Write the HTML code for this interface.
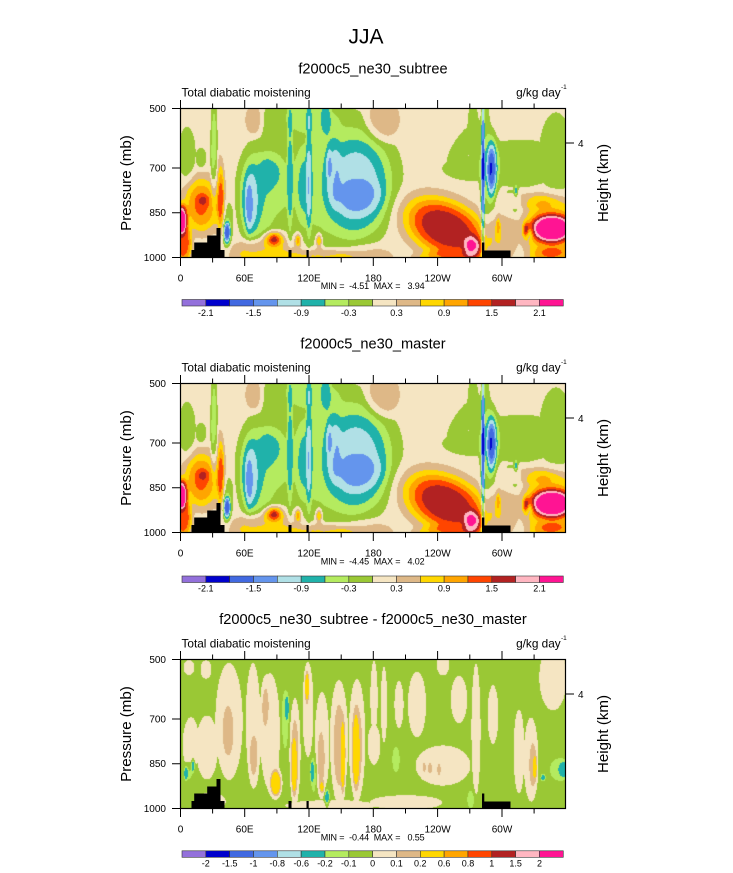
<!DOCTYPE html>
<html><head><meta charset="utf-8"><style>
html,body{margin:0;padding:0;background:#fff;}
body{width:733px;height:873px;position:relative;overflow:hidden;font-family:"Liberation Sans",Arial,sans-serif;}
canvas{position:absolute;}
svg{position:absolute;left:0;top:0;}
</style></head><body>
<canvas id="c1" width="386" height="150" style="left:180px;top:108px"></canvas>
<canvas id="c2" width="386" height="150" style="left:180px;top:383px"></canvas>
<canvas id="c3" width="386" height="150" style="left:180px;top:659px"></canvas>
<svg width="733" height="873" viewBox="0 0 733 873" font-family="Liberation Sans, Arial, sans-serif">
<defs>
<g id="terr">
<polygon points="11,150 11,142 13.7,142 13.7,134.5 26.7,134.5 26.7,127.5 36,127.5 36,120 40,120 40,142 44,142 44,150" fill="#000"/>
<rect x="108" y="142" width="3" height="8" fill="#000"/>
<rect x="126" y="142" width="2.2" height="8" fill="#000"/>
<rect x="301.5" y="142.5" width="28.5" height="7.5" fill="#000"/>
<rect x="301.5" y="134.5" width="2.3" height="10" fill="#000"/>
</g>
<g id="axes" fill="none" stroke="#000">
<rect x="180.5" y="108.5" width="385" height="149" stroke-width="1.2"/>
<path stroke-width="1" d="M180.5 257.5v8.5M244.7 257.5v8.5M309 257.5v8.5M373.3 257.5v8.5M437.6 257.5v8.5M502 257.5v8.5M212.6 257.5v5M276.9 257.5v5M341.2 257.5v5M405.5 257.5v5M469.8 257.5v5M534.1 257.5v5M180.5 108.5v-8.5M244.7 108.5v-8.5M309 108.5v-8.5M373.3 108.5v-8.5M437.6 108.5v-8.5M502 108.5v-8.5M212.6 108.5v-5M276.9 108.5v-5M341.2 108.5v-5M405.5 108.5v-5M469.8 108.5v-5M534.1 108.5v-5M180.5 108.5h-8.5M180.5 168h-8.5M180.5 212.7h-8.5M180.5 257.5h-8.5M565.5 143h8.5"/>
</g>
<g id="cbar" stroke="#333" stroke-width="0.6">
<rect x="182" y="299.5" width="23.83" height="6.5" fill="#9370DB"/>
<rect x="205.83" y="299.5" width="23.83" height="6.5" fill="#0000CD"/>
<rect x="229.66" y="299.5" width="23.83" height="6.5" fill="#4169E1"/>
<rect x="253.49" y="299.5" width="23.83" height="6.5" fill="#6495ED"/>
<rect x="277.32" y="299.5" width="23.83" height="6.5" fill="#B0E0E6"/>
<rect x="301.15" y="299.5" width="23.83" height="6.5" fill="#20B2AA"/>
<rect x="324.98" y="299.5" width="23.83" height="6.5" fill="#B4EB5F"/>
<rect x="348.81" y="299.5" width="23.83" height="6.5" fill="#9AC835"/>
<rect x="372.64" y="299.5" width="23.83" height="6.5" fill="#F5E5C2"/>
<rect x="396.47" y="299.5" width="23.83" height="6.5" fill="#DEB887"/>
<rect x="420.3" y="299.5" width="23.83" height="6.5" fill="#FFD700"/>
<rect x="444.13" y="299.5" width="23.83" height="6.5" fill="#FFA500"/>
<rect x="467.96" y="299.5" width="23.83" height="6.5" fill="#FF4500"/>
<rect x="491.79" y="299.5" width="23.83" height="6.5" fill="#B22222"/>
<rect x="515.62" y="299.5" width="23.83" height="6.5" fill="#FFB6C1"/>
<rect x="539.45" y="299.5" width="23.83" height="6.5" fill="#FF1493"/>
</g>
</defs>

<use href="#terr" transform="translate(180.5,108)"/>
<use href="#terr" transform="translate(180.5,383)"/>
<use href="#terr" transform="translate(180.5,659)"/>
<use href="#axes"/>
<use href="#axes" transform="translate(0,275)"/>
<use href="#axes" transform="translate(0,551)"/>
<use href="#cbar"/>
<use href="#cbar" transform="translate(0,276.5)"/>
<use href="#cbar" transform="translate(0,551.3)"/>

<text x="366" y="43.5" font-size="21" text-anchor="middle">JJA</text>

<!-- Panel 1 -->
<g>
<text x="373" y="73.3" font-size="14.6" text-anchor="middle">f2000c5_ne30_subtree</text>
<text x="181.5" y="96.5" font-size="11.8">Total diabatic moistening</text>
<text x="560.7" y="96.5" font-size="11.8" text-anchor="end">g/kg day</text>
<text x="561" y="89" font-size="6.5">-1</text>
<g font-size="10" text-anchor="end">
<text x="166" y="112">500</text><text x="166" y="171.5">700</text><text x="166" y="216.2">850</text><text x="166" y="261">1000</text>
</g>
<text x="578" y="147" font-size="10">4</text>
<g font-size="10" text-anchor="middle">
<text x="180.5" y="281.5">0</text><text x="244.7" y="281.5">60E</text><text x="309" y="281.5">120E</text><text x="373.3" y="281.5">180</text><text x="437.6" y="281.5">120W</text><text x="502" y="281.5">60W</text>
</g>
<text x="320.7" y="289" font-size="9" textLength="104" xml:space="preserve">MIN =  -4.51  MAX =   3.94</text>
<g font-size="9" text-anchor="middle">
<text x="205.8" y="316">-2.1</text><text x="253.5" y="316">-1.5</text><text x="301.2" y="316">-0.9</text><text x="348.8" y="316">-0.3</text><text x="396.5" y="316">0.3</text><text x="444.1" y="316">0.9</text><text x="491.8" y="316">1.5</text><text x="539.5" y="316">2.1</text>
</g>
<text transform="translate(131,183) rotate(-90)" font-size="15.1" text-anchor="middle">Pressure (mb)</text>
<text transform="translate(608,183) rotate(-90)" font-size="15.1" text-anchor="middle">Height (km)</text>
</g>

<!-- Panel 2 -->
<g>
<text x="373" y="348.3" font-size="14.6" text-anchor="middle">f2000c5_ne30_master</text>
<text x="181.5" y="371.5" font-size="11.8">Total diabatic moistening</text>
<text x="560.7" y="371.5" font-size="11.8" text-anchor="end">g/kg day</text>
<text x="561" y="364" font-size="6.5">-1</text>
<g font-size="10" text-anchor="end">
<text x="166" y="387">500</text><text x="166" y="446.5">700</text><text x="166" y="491.2">850</text><text x="166" y="536">1000</text>
</g>
<text x="578" y="422" font-size="10">4</text>
<g font-size="10" text-anchor="middle">
<text x="180.5" y="556.5">0</text><text x="244.7" y="556.5">60E</text><text x="309" y="556.5">120E</text><text x="373.3" y="556.5">180</text><text x="437.6" y="556.5">120W</text><text x="502" y="556.5">60W</text>
</g>
<text x="320.7" y="564.5" font-size="9" textLength="104" xml:space="preserve">MIN =  -4.45  MAX =   4.02</text>
<g font-size="9" text-anchor="middle">
<text x="205.8" y="591.7">-2.1</text><text x="253.5" y="591.7">-1.5</text><text x="301.2" y="591.7">-0.9</text><text x="348.8" y="591.7">-0.3</text><text x="396.5" y="591.7">0.3</text><text x="444.1" y="591.7">0.9</text><text x="491.8" y="591.7">1.5</text><text x="539.5" y="591.7">2.1</text>
</g>
<text transform="translate(131,458) rotate(-90)" font-size="15.1" text-anchor="middle">Pressure (mb)</text>
<text transform="translate(608,458) rotate(-90)" font-size="15.1" text-anchor="middle">Height (km)</text>
</g>

<!-- Panel 3 -->
<g>
<text x="373" y="624" font-size="14.6" text-anchor="middle">f2000c5_ne30_subtree - f2000c5_ne30_master</text>
<text x="181.5" y="647.5" font-size="11.8">Total diabatic moistening</text>
<text x="560.7" y="647.5" font-size="11.8" text-anchor="end">g/kg day</text>
<text x="561" y="640" font-size="6.5">-1</text>
<g font-size="10" text-anchor="end">
<text x="166" y="663">500</text><text x="166" y="722.5">700</text><text x="166" y="767.2">850</text><text x="166" y="812">1000</text>
</g>
<text x="578" y="698" font-size="10">4</text>
<g font-size="10" text-anchor="middle">
<text x="180.5" y="832.5">0</text><text x="244.7" y="832.5">60E</text><text x="309" y="832.5">120E</text><text x="373.3" y="832.5">180</text><text x="437.6" y="832.5">120W</text><text x="502" y="832.5">60W</text>
</g>
<text x="320.7" y="840.5" font-size="9" textLength="104" xml:space="preserve">MIN =  -0.44  MAX =   0.55</text>
<g font-size="9" text-anchor="middle">
<text x="205.8" y="866.5">-2</text><text x="229.7" y="866.5">-1.5</text><text x="253.5" y="866.5">-1</text><text x="277.3" y="866.5">-0.8</text><text x="301.2" y="866.5">-0.6</text><text x="325" y="866.5">-0.2</text><text x="348.8" y="866.5">-0.1</text><text x="372.6" y="866.5">0</text><text x="396.5" y="866.5">0.1</text><text x="420.3" y="866.5">0.2</text><text x="444.1" y="866.5">0.6</text><text x="468" y="866.5">0.8</text><text x="491.8" y="866.5">1</text><text x="515.6" y="866.5">1.5</text><text x="539.5" y="866.5">2</text>
</g>
<text transform="translate(131,734) rotate(-90)" font-size="15.1" text-anchor="middle">Pressure (mb)</text>
<text transform="translate(608,734) rotate(-90)" font-size="15.1" text-anchor="middle">Height (km)</text>
</g>
</svg>
<script>
var COLS=['#9370DB','#0000CD','#4169E1','#6495ED','#B0E0E6','#20B2AA','#B4EB5F','#9AC835','#F5E5C2','#DEB887','#FFD700','#FFA500','#FF4500','#B22222','#FFB6C1','#FF1493'];
var L1=[-2.1,-1.8,-1.5,-1.2,-0.9,-0.6,-0.3,0,0.3,0.6,0.9,1.2,1.5,1.8,2.1];
var L3=[-2,-1.5,-1,-0.8,-0.6,-0.2,-0.1,0,0.1,0.2,0.6,0.8,1,1.5,2];
function G(cx,cy,sx,sy,a,g){return [cx,cy,sx,sy,a,2,0,g];}
var P1=[
G(6,45,9,28,-0.35,2),G(20,50,6,12,-0.3,2),[33,45,3.5,55,-0.6,2],
[22,95,24,32,0.3,2],[20,97,15,25,0.8,1.5],[22,92,5,5,0.5,1],
[0,110,6,14,2.1,1.5],[2,135,9,20,1.2,2],
[40,92,3,32,0.75,1.5],[38,85,7,40,0.3,2],[46,124,3.5,11,-1.6,1.5],[46,115,6,25,-0.35,2],
[80,85,27,56,-0.35,2],[76,88,16,45,-0.3,2],[90,62,12,18,-0.3,2],[69,92,11,42,-0.3,2],[69,95,7.5,34,-0.3,2],[68,100,3.5,25,-0.3,2],
[73,12,9,16,0.4,2],[82,145,32,16,0.6,2],[93,130,10,8,1.0,1.5],[93,130,4,4,0.5,1],
[109,60,3,70,-0.5,2],[128,60,3,75,-0.5,2],[117,132,3,6,1.1,1],[138,132,3,7,1.0,1],
G(152,70,68,72,-0.35,3),G(115,12,38,22,-0.35,3),[133,8,27,16,-0.3,2],[160,74,52,60,-0.3,2],[177,78,34,52,-0.3,2],
[123,82,8,38,-0.3,2],[178,80,29,46,-0.3,2],[152,62,8,38,-0.3,2],[178,88,24,18,-0.3,2],[148,55,3,15,-0.3,2],[145,8,5,20,-0.4,2],
[202,12,17,22,0.45,2],[140,150,35,10,0.55,2],[185,148,30,12,0.3,2],
[265,120,44,27,1.65,1.5,0.45],[262,150,30,8,0.5,2],[292,140,9,12,1.0,1.5],
[302,70,1.8,90,-1.35,2],[304,60,6,85,-0.3,2],[311,62,4.5,28,-1.3,1.5],[310,60,9,42,-0.3,2],
G(292,60,32,13,-0.35,1),[282,38,28,10,-0.35,2,-1.0,1],G(340,55,48,25,-0.35,1),G(375,48,18,46,-0.35,1),G(292,25,6,35,-0.35,1),G(330,95,12,15,-0.3,1),
[345,92,30,8,0.3,2],[325,125,12,28,0.3,2],
[370,120,28,34,0.9,2],[371,120,22,14,1.5,2],[372,148,25,9,0.5,2],
[345,122,3,7,1.2,1],[317,118,2,8,0.7,1],[335,82,1.5,5,-0.9,1],[348,125,4,6,-0.7,1]
];
function W(cx,cy,sx,sy){return [cx,cy,sx,sy,0.1,2,0,1];}
var P3=[
W(8,8,6,8),W(25,10,6,10),W(10,85,9,30),W(26,88,12,35),W(30,142,16,10),
[8,112,5,9,-0.1,2],[5,114,1.5,5,-0.4,1],[12,106,1.5,5,-0.4,1],
W(48,62,15,64),[47,72,6,28,0.1,2],W(72,62,8,64),[73,100,5,26,0.1,2],W(89,72,11,64),[84,45,4,24,0.1,2],
[95,124,5,12,0.45,1.5],[104,60,4,32,-0.1,2],[106,48,1.5,9,-0.4,1],
W(114,92,6,58),[114,95,4,40,0.1,2],[113,108,2.5,25,0.3,1.5],
W(127,50,6,52),[126,27,2,14,0.35,1.5],
[133,115,3,20,-0.1,2],[131,112,1.5,8,-0.4,1],
W(141,85,8,58),[140,100,4,30,0.1,2],[141,128,2,5,0.3,1],[146,138,2,7,-0.4,1],
W(158,80,10,64),[158,88,6,50,0.1,2],[162,98,2,32,0.35,1.5],
W(176,78,9,64),[176,88,6,45,0.1,2],[175,92,3,32,0.35,1.5],
W(193,85,7,22),W(150,146,50,6),
W(193,38,4,40),W(203,45,3.5,42),W(218,45,5,26),W(236,45,10,36),W(262,5,7,12),
W(262,106,30,22),[243,108,2.5,7,0.1,1],[249,109,2.5,7,0.1,1],[258,110,2,7,0.1,1],
W(278,40,9,26),W(295,70,5,72),W(312,55,6,32),W(338,92,6,46),
W(350,100,8,46),[352,106,4,25,0.1,2],[354,108,1.5,9,0.35,1],W(372,18,15,36),
[215,100,4,14,-0.1,2],[378,110,10,12,-0.1,2],[383,110,4,6,-0.35,1],[362,118,2,3,-0.3,1],
W(225,143,40,8),[290,140,4,10,-0.1,2]
];
function paint(id,blobs,base,L){
 var c=document.getElementById(id);if(!c||!c.getContext)return;
 var ctx=c.getContext('2d'),Wd=c.width,H=c.height,img=ctx.createImageData(Wd,H),d=img.data;
 var rgb=COLS.map(function(h){return [parseInt(h.slice(1,3),16),parseInt(h.slice(3,5),16),parseInt(h.slice(5,7),16)];});
 var pre=blobs.map(function(b){var a=b[6]||0;return [b[0],b[1],1/b[2],1/b[3],b[4],b[5]||1,Math.cos(a),Math.sin(a),b[7]||0];});
 var gm=[0,0,0,0,0,0,0,0];
 for(var j=0;j<H;j++)for(var i=0;i<Wd;i++){
  var v=base,x=i-0.5,y=j;
  for(var q=0;q<8;q++)gm[q]=0;
  for(var n=0;n<pre.length;n++){var b=pre[n];var dx=x-b[0],dy=y-b[1];
   var rx=(dx*b[6]+dy*b[7])*b[2],ry=(-dx*b[7]+dy*b[6])*b[3];var r2=rx*rx+ry*ry;if(r2>40)continue;
   var t=b[4]*Math.exp(-(b[5]===1?r2:Math.pow(r2,b[5])));
   if(b[8]){if(Math.abs(t)>Math.abs(gm[b[8]]))gm[b[8]]=t;}else v+=t;}
  for(var q2=1;q2<8;q2++)v+=gm[q2];
  var k=0;while(k<L.length&&v>=L[k])k++;
  var o=(j*Wd+i)*4;d[o]=rgb[k][0];d[o+1]=rgb[k][1];d[o+2]=rgb[k][2];d[o+3]=255;}
 ctx.putImageData(img,0,0);
}
paint('c1',P1,0.15,L1);
paint('c2',P1,0.15,L1);
paint('c3',P3,-0.05,L3);
</script>
</body></html>
